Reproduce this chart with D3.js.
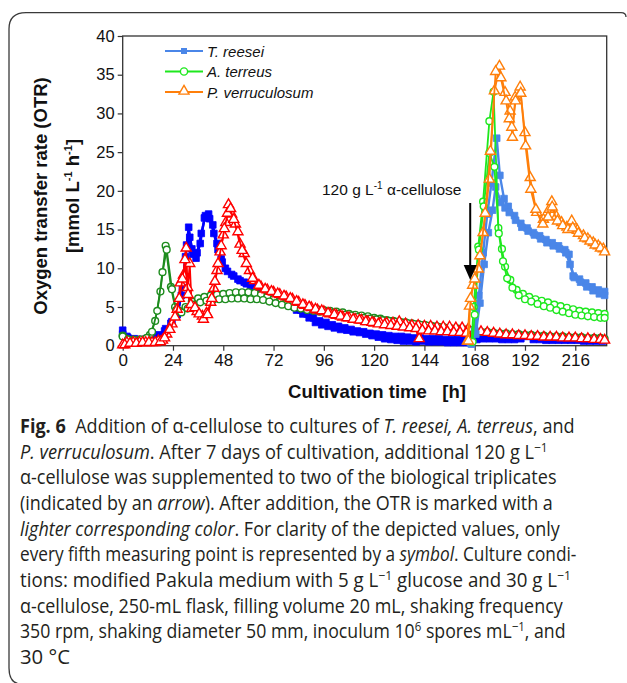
<!DOCTYPE html>
<html><head><meta charset="utf-8">
<script src="https://cdn.jsdelivr.net/npm/d3@7"></script>
<style>body{margin:0;background:#fff}svg{display:block}</style>
</head><body>
<svg id="c" width="627" height="683"></svg>
<script>
// ---------------- DATA ----------------
const xTicks = [0,24,48,72,96,120,144,168,192,216];
const yTicks = [0,5,10,15,20,25,30,35,40];
const legendLabels = ["T. reesei","A. terreus","P. verruculosum"];
const annotation = "120 g L";
const additionTime = 165;

// T. reesei (dark: before addition, light: after addition)
const treeseiA = [[0,2.0],[2,1.2],[5,0.8],[8,0.7],[11,0.8],[14,0.9],[17,1.2],[20,1.9],[23,2.9],[26,4.0],[28,6.5],[30,11.5],[31.5,15.3],[33,12.5],[35,11.3],[37,13.2],[39,16.5],[41,17.0],[43,15.6],[45,13.2],[47,11.2],[49,10.0],[52,9.2],[55,8.6],[58,8.2],[61,7.8],[64,7.5],[67,7.1],[70,6.7],[73,6.3],[76,5.8],[79,5.4],[82,5.0],[85,4.6],[88,4.1],[91,3.6],[94,3.2],[97,3.0],[100,2.7],[103,2.5],[106,2.3],[109,2.1],[112,1.9],[115,1.8],[118,1.6],[121,1.5],[124,1.4],[127,1.3],[130,1.2],[133,1.2],[136,1.1],[139,1.0],[142,1.0],[145,0.9],[148,0.9],[151,0.9],[154,0.8],[157,0.8],[160,0.8],[163,0.8],[166,0.8],[169,0.8],[172,0.9],[175,0.9],[178,0.9],[181,0.8],[184,0.8],[187,0.8],[190,0.9],[193,1.2],[196,0.8],[199,0.8],[202,0.7],[205,0.7],[208,0.7],[211,0.7],[214,0.7],[217,0.7],[220,0.6],[223,0.6],[226,0.6],[229,0.6]];
const treeseiB = [[0,1.5],[2.5,1.0],[5.5,0.9],[8.5,0.8],[11.5,0.9],[14.5,1.0],[17.5,1.4],[20.5,2.2],[23.5,3.1],[26.5,4.4],[28.5,7.5],[30.5,13.0],[32,14.0],[33.5,11.8],[35.5,12.0],[37.5,14.5],[39.5,16.8],[41.5,16.4],[43.5,14.5],[45.5,12.4],[47.5,10.8],[50,9.6],[53,9.0],[56,8.4],[59,8.0],[62,7.6],[65,7.3],[68,6.9],[71,6.4],[74,5.9],[77,5.5],[80,5.1],[83,4.6],[86,4.1],[89,3.6],[92,3.0],[95,2.7],[98,2.5],[101,2.3],[104,2.1],[107,2.0],[110,1.8],[113,1.7],[116,1.5],[119,1.3],[122,1.1],[125,0.9],[128,0.8],[131,0.7],[134,0.6],[137,0.6],[140,0.5],[143,0.6],[146,0.5],[149,0.5],[152,0.5],[155,0.4],[158,0.4],[161,0.4],[164,0.4]];
const treeseiAddA = [[166,0.3],[168,2.0],[170,6.5],[172,12.0],[174,17.0],[176,21.0],[178.5,26.8],[180,22.0],[182,19.0],[184,18.0],[187,16.8],[190,15.8],[193,15.2],[196,14.6],[199,14.2],[202,13.7],[205,13.3],[208,12.9],[211,12.4],[213,11.8],[215,9.0],[218,8.6],[221,8.1],[224,7.6],[227,7.2],[230,7.0]];
const treeseiAddB = [[166.5,0.2],[168.5,1.5],[170.5,5.5],[172.5,10.5],[174.5,14.6],[176.5,17.5],[178,20.5],[180.5,18.5],[182.5,17.8],[184.5,17.2],[187.5,16.2],[190.5,15.3],[193.5,14.8],[196.5,14.3],[199.5,13.8],[202.5,13.3],[205.5,12.9],[208.5,12.5],[211.5,12.0],[213.5,10.5],[215.5,8.8],[218.5,8.2],[221.5,7.6],[224.5,7.1],[227.5,6.7],[230,6.5]];

// A. terreus
const aterreusA = [[0,1.3],[2,0.9],[5,0.8],[8,0.8],[11,0.9],[13,1.4],[15.5,3.2],[18,7.0],[20.5,12.9],[23,7.6],[25,5.0],[27,4.5],[30,5.0],[33,5.7],[36,6.1],[39,6.3],[42,6.5],[45,6.6],[48,6.7],[51,6.8],[54,6.9],[57,6.9],[60,6.9],[63,6.8],[66,6.6],[69,6.3],[72,6.0],[75,5.7],[78,5.5],[81,5.3],[84,5.1],[87,5.0],[90,4.8],[93,4.7],[96,4.6],[99,4.5],[102,4.4],[105,4.3],[108,4.1],[111,4.0],[114,3.9],[117,3.8],[120,3.6],[123,3.5],[126,3.3],[129,3.2],[132,3.1],[135,3.0],[138,2.9],[141,2.8],[144,2.7],[147,2.6],[150,2.5],[153,2.4],[156,2.3],[159,2.2],[162,2.1],[165,2.0],[168,1.9],[171,1.8],[174,1.8],[177,1.7],[180,1.6],[183,1.6],[186,1.5],[189,1.5],[192,1.4],[195,1.4],[198,1.3],[201,1.3],[204,1.2],[207,1.2],[210,1.2],[213,1.1],[216,1.1],[219,1.1],[222,1.0],[225,1.0],[228,1.0],[230,0.9]];
const aterreusB = [[0,1.2],[2.5,0.8],[5.5,0.7],[8.5,0.8],[11.5,1.0],[14,1.8],[16.5,4.5],[19,9.5],[21,12.4],[23.5,7.3],[25.5,4.6],[28,4.3],[31,4.8],[34,5.3],[37,5.6],[40,5.8],[43,5.9],[46,6.0],[49,6.0],[52,6.1],[55,6.1],[58,6.1],[61,6.0],[64,6.0],[67,5.9],[70,5.7],[73,5.5],[76,5.3],[79,5.1],[82,4.9],[85,4.8],[88,4.6],[91,4.5],[94,4.4],[97,4.3],[100,4.2],[103,4.1],[106,4.0],[109,3.9],[112,3.7],[115,3.6],[118,3.5],[121,3.4],[124,3.3],[127,3.2],[130,3.1],[133,3.0],[136,2.9],[139,2.8],[142,2.7],[145,2.6],[148,2.5],[151,2.4],[154,2.3],[157,2.2],[160,2.2],[163,2.1],[166,2.0]];
const aterreusAddA = [[166.5,0.5],[167.5,5.0],[169.7,12.8],[172,18.6],[175,29.0],[177,32.8],[179.3,15.2],[181,12.5],[182.5,10.2],[185,8.5],[188,7.2],[191,6.7],[194,6.3],[197,6.0],[200,5.8],[203,5.6],[206,5.3],[209,5.1],[212,4.9],[215,4.7],[218,4.5],[221,4.4],[224,4.3],[227,4.2],[230,4.1]];
const aterreusAddB = [[167,0.5],[168,4.0],[170,12.4],[172.3,18.0],[175,24.9],[177.4,23.1],[179.5,14.5],[181.5,10.9],[183.5,8.7],[186,7.5],[189,6.5],[192,6.0],[195,5.7],[198,5.4],[201,5.1],[204,4.9],[207,4.6],[210,4.4],[213,4.2],[216,4.0],[219,3.9],[222,3.8],[225,3.7],[228,3.6],[230,3.6]];

// P. verruculosum
const pverrA = [[0,0.0],[2,0.3],[5,0.3],[8,0.3],[11,0.3],[14,0.3],[17,0.5],[19,0.6],[21,1.4],[23.5,2.7],[26,4.6],[27.5,8.0],[29,9.0],[30.3,12.5],[31,7.4],[32,10.5],[33,4.7],[35.5,4.3],[38,3.7],[40,4.1],[42,5.5],[43.5,7.3],[45,9.6],[46.5,12.0],[48,14.2],[49.2,15.8],[50.5,18.1],[52,16.9],[53.8,15.6],[56,13.0],[58,11.8],[60.5,9.6],[63,8.3],[66,7.5],[69,7.1],[72,6.8],[75,6.5],[78,6.2],[81,5.9],[84,5.5],[87,5.1],[90,4.8],[93,4.5],[96,4.3],[99,4.0],[102,3.8],[105,3.6],[108,3.5],[111,3.3],[114,3.2],[117,3.0],[120,2.8],[123,2.8],[126,2.8],[129,2.8],[132,3.0],[135,2.7],[138,2.5],[141,2.5],[144,2.4],[147,2.4],[150,2.3],[153,2.3],[156,2.3],[159,2.2],[162,2.2],[165,2.1],[168,1.8],[171,1.7],[174,1.6],[177,1.5],[180,1.4],[183,1.3],[186,1.3],[189,1.2],[192,1.2],[195,1.1],[198,1.1],[201,1.0],[204,1.0],[207,1.0],[210,0.9],[213,0.9],[216,0.9],[219,0.8],[222,0.8],[225,0.7],[228,0.7],[230,0.6]];
const pverrB = [[1,0.0],[3.5,0.2],[6.5,0.2],[9.5,0.3],[12.5,0.3],[15.5,0.3],[18,0.4],[20,0.9],[22.5,2.0],[25,3.6],[27,6.0],[28.5,8.5],[29.7,11.0],[31.2,6.5],[32.5,5.2],[34.5,4.8],[36.5,4.0],[38.5,3.3],[40.5,3.9],[42.5,6.0],[44,8.2],[45.5,10.5],[47,12.8],[48.5,15.0],[50,17.0],[51.5,17.6],[53,16.2],[55,14.6],[57,12.2],[59,10.5],[62,8.6],[65,7.7],[68,7.2],[71,6.9],[74,6.6],[77,6.3],[80,6.0],[83,5.6],[86,5.2],[89,4.9],[92,4.6],[95,4.4],[98,4.1],[101,3.9],[104,3.7],[107,3.5],[110,3.3],[113,3.2],[116,3.0],[119,2.9],[122,2.7],[125,2.6],[128,2.5],[131,2.4],[134,2.3],[137,2.2],[140,2.1],[141.5,0.8],[143,1.9],[146,1.8],[149,1.8],[152,1.7],[155,1.7],[158,1.6],[161,1.6],[164,1.5]];
const pverrAddA = [[164.5,0.5],[165.5,5.0],[167,7.7],[169.7,9.8],[172,14.5],[175,21.4],[177.4,32.8],[179.8,36.0],[182.5,32.6],[184.9,30.2],[186,26.8],[187.3,32.0],[189.7,33.3],[192,27.4],[194.5,21.6],[197.6,17.1],[200.8,16.2],[203.5,17.5],[204.8,18.5],[207,16.6],[209.5,15.8],[212,15.2],[214.3,16.0],[217,14.8],[219.9,14.1],[222,13.7],[224.6,13.2],[227,12.8],[229.4,12.4]];
const pverrAddB = [[165,0.5],[166,6.0],[168,8.5],[170.5,11.5],[173,17.0],[175.5,25.0],[178,35.3],[180.5,34.5],[183,31.5],[184.5,29.2],[185.7,28.1],[187.5,31.5],[190,32.5],[192.3,25.7],[194.8,20.1],[197.2,17.5],[200.5,15.6],[203,16.5],[205,17.8],[207.5,16.0],[210,15.4],[212.5,14.9],[214.8,15.1],[217.5,14.4],[220.5,13.8],[223,13.4],[225.5,12.9],[228,12.5],[230,12.0]];

// ---------------- DRAW ----------------
const svg = d3.select("#c");
const m = {l:122.7, r:606.7, t:36, b:345.7};
const x = d3.scaleLinear().domain([0,231]).range([m.l, m.r]);
const y = d3.scaleLinear().domain([0,40]).range([m.b, m.t]);

const C = {
  dblue:"#0000ff", lblue:"#4a86e8",
  dgreen:"#1e8c1e", lgreen:"#1ee81e",
  red:"#ff0000", orange:"#ff7f0a"
};

// outer frame
svg.append("path")
  .attr("d","M626,17 Q626,12.7 621,12.7 L26,12.7 Q9,12.7 9,29 L9,668 Q9,683 20,684")
  .attr("fill","none").attr("stroke","#3a3a3a").attr("stroke-width",1.3);

const font = "Liberation Sans, Arimo, Arial, Helvetica, sans-serif";
const g = svg.append("g");

// axes
const xAxis = d3.axisBottom(x).tickValues(xTicks).tickSize(5).tickPadding(3);
const yAxis = d3.axisLeft(y).tickValues(yTicks).tickSize(5).tickPadding(3);
const gx = g.append("g").attr("transform",`translate(0,${m.b})`).call(xAxis);
const gy = g.append("g").attr("transform",`translate(${m.l},0)`).call(yAxis);
[gx,gy].forEach(a=>{
  a.attr("font-family",null).attr("font-size",null);
  a.select(".domain").remove();
  a.selectAll("line").attr("stroke","#333").attr("stroke-width",1.2);
  a.selectAll("text").attr("fill","#111").style("font-family",font);
});
gx.selectAll("text").style("font-size","17px");
gy.selectAll("text").style("font-size","16.5px");

// plot frame
g.append("rect").attr("x",m.l).attr("y",m.t).attr("width",m.r-m.l).attr("height",m.b-m.t)
  .attr("fill","none").attr("stroke","#333").attr("stroke-width",1.3);

// series drawing
const line = d3.line().x(d=>x(d[0])).y(d=>y(d[1]));
const sq = d3.symbol().type(d3.symbolSquare).size(44);
const tri = d3.symbol().type(d3.symbolTriangle).size(44);
const plot = g.append("g");

function drawSeries(data, color, marker){
  const s = plot.append("g");
  s.append("path").datum(data).attr("d",line).attr("fill","none")
    .attr("stroke",color).attr("stroke-width",marker==="square"?2.4:1.8).attr("stroke-linejoin","round");
  const pts = s.selectAll(".p").data(data).join("g")
    .attr("transform",d=>`translate(${x(d[0])},${y(d[1])})`);
  if(marker==="square"){
    pts.append("path").attr("d",sq).attr("fill",color).attr("stroke",color).attr("stroke-width",0.8);
  } else if(marker==="circle"){
    pts.append("circle").attr("r",3.4).attr("fill","#fff").attr("stroke",color).attr("stroke-width",1.4);
  } else {
    pts.append("path").attr("d",tri).attr("transform","translate(0,-0.8)")
      .attr("fill","#fff").attr("stroke",color).attr("stroke-width",1.4);
  }
}
drawSeries(treeseiA, C.dblue, "square");
drawSeries(treeseiB, C.dblue, "square");
drawSeries(aterreusA, C.dgreen, "circle");
drawSeries(aterreusB, C.dgreen, "circle");
drawSeries(pverrA, C.red, "triangle");
drawSeries(pverrB, C.red, "triangle");
drawSeries(treeseiAddA, C.lblue, "square");
drawSeries(treeseiAddB, C.lblue, "square");
drawSeries(aterreusAddA, C.lgreen, "circle");
drawSeries(aterreusAddB, C.lgreen, "circle");
drawSeries(pverrAddA, C.orange, "triangle");
drawSeries(pverrAddB, C.orange, "triangle");

// legend
const lg = g.append("g");
const legColors = [C.lblue, C.lgreen, C.orange];
const legMarks = ["square","circle","triangle"];
const sqL = d3.symbol().type(d3.symbolSquare).size(36);
legendLabels.forEach((lab,i)=>{
  const yy = 51 + i*20.5;
  const row = lg.append("g");
  row.append("line").attr("x1",165).attr("x2",203).attr("y1",yy).attr("y2",yy)
    .attr("stroke",legColors[i]).attr("stroke-width",1.8);
  const mk = row.append("g").attr("transform",`translate(184,${yy})`);
  if(legMarks[i]==="square") mk.append("path").attr("d",sqL).attr("fill",legColors[i]);
  else if(legMarks[i]==="circle") mk.append("circle").attr("r",3.6).attr("fill","#fff").attr("stroke",legColors[i]).attr("stroke-width",1.4);
  else mk.append("path").attr("d",tri).attr("transform","translate(0,-0.8)").attr("fill","#fff").attr("stroke",legColors[i]).attr("stroke-width",1.4);
  row.append("text").attr("x",207).attr("y",yy+5.5).text(lab)
    .style("font-family",font).style("font-size","15px").style("font-style","italic").attr("fill","#111");
});

// annotation with arrow
const ann = g.append("text").attr("x",322).attr("y",195).style("font-family",font).style("font-size","15.5px").attr("fill","#111");
ann.append("tspan").text(annotation);
ann.append("tspan").attr("dy",-6).style("font-size","10px").text("-1");
ann.append("tspan").attr("dy",6).text(" \u03b1-cellulose");
const ax = x(additionTime) + 1.8;
g.append("line").attr("x1",ax).attr("x2",ax).attr("y1",203).attr("y2",267).attr("stroke","#000").attr("stroke-width",2);
g.append("path").attr("d",`M${ax-6.5},265 L${ax+6.5},265 L${ax},280 Z`).attr("fill","#000");

// axis titles
g.append("text").attr("x",377).attr("y",398).attr("text-anchor","middle")
  .style("font-family",font).style("font-size","18.5px").style("font-weight","bold").attr("fill","#111")
  .attr("xml:space","preserve").text("Cultivation time   [h]");
const yt = g.append("g").attr("transform","translate(0,196) rotate(-90)");
yt.append("text").attr("x",0).attr("y",47).attr("text-anchor","middle")
  .style("font-family",font).style("font-size","18.5px").style("font-weight","bold").attr("fill","#111")
  .text("Oxygen transfer rate (OTR)");
const yt2 = yt.append("text").attr("x",0).attr("y",79).attr("text-anchor","middle")
  .style("font-family",font).style("font-size","18.5px").style("font-weight","bold").attr("fill","#111");
yt2.append("tspan").text("[mmol L");
yt2.append("tspan").attr("dy",-7).style("font-size","11px").text("-1");
yt2.append("tspan").attr("dy",7).text(" h");
yt2.append("tspan").attr("dy",-7).style("font-size","11px").text("-1");
yt2.append("tspan").attr("dy",7).text("]");

// caption
const capFont = "'Open Sans','Noto Sans',sans-serif";
const capLines = [
  {w:555, segs:[{t:"Fig. 6",b:1},{t:"  Addition of \u03b1-cellulose to cultures of "},{t:"T. reesei, A. terreus",i:1},{t:", and"}]},
  {w:528, segs:[{t:"P. verruculosum",i:1},{t:". After 7 days of cultivation, additional 120 g L"},{t:"\u22121",s:1}]},
  {w:537, segs:[{t:"\u03b1-cellulose was supplemented to two of the biological triplicates"}]},
  {w:533, segs:[{t:"(indicated by an "},{t:"arrow",i:1},{t:"). After addition, the OTR is marked with a"}]},
  {w:540, segs:[{t:"lighter corresponding color",i:1},{t:". For clarity of the depicted values, only"}]},
  {w:557, segs:[{t:"every fifth measuring point is represented by a "},{t:"symbol",i:1},{t:". Culture condi-"}]},
  {w:551, segs:[{t:"tions: modified Pakula medium with 5 g L"},{t:"\u22121",s:1},{t:" glucose and 30 g L"},{t:"\u22121",s:1}]},
  {w:543, segs:[{t:"\u03b1-cellulose, 250-mL flask, filling volume 20 mL, shaking frequency"}]},
  {w:546, segs:[{t:"350 rpm, shaking diameter 50 mm, inoculum 10"},{t:"6",s:1},{t:" spores mL"},{t:"\u22121",s:1},{t:", and"}]},
  {w:50, segs:[{t:"30 \u00b0C"}]}
];
const cap = svg.append("g");
capLines.forEach((ln,i)=>{
  const by = 433 + i*25.65;
  const t = cap.append("text").attr("x",20).attr("y",by).attr("xml:space","preserve")
    .style("font-family",capFont).style("font-size","20px").attr("fill","#231f20");
  let raised = false;
  ln.segs.forEach(s=>{
    const ts = t.append("tspan").text(s.t);
    if(s.b) ts.style("font-weight","bold");
    if(s.i) ts.style("font-style","italic");
    if(s.s){ ts.attr("dy",-7).style("font-size","13px"); raised=true; }
    else if(raised){ ts.attr("dy",7); raised=false; }
  });
  const nat = t.node().getComputedTextLength();
  const sx = ln.w / nat;
  t.attr("transform",`translate(20,0) scale(${sx},1) translate(-20,0)`);
});
</script>
</body></html>
